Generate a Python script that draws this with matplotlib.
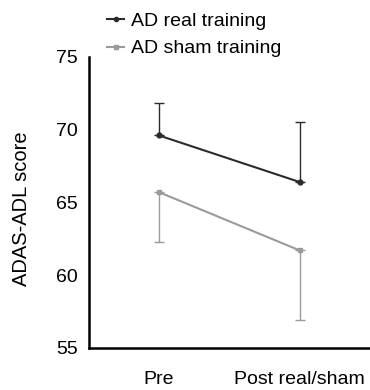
import matplotlib
matplotlib.use("Agg")
import matplotlib.pyplot as plt
from matplotlib.lines import Line2D

# data
phases = ["Pre", "Post real/sham"]
real_mean = [69.6, 66.4]
real_err = [2.2, 4.1]      # upper bars only
sham_mean = [65.7, 61.7]
sham_err = [3.4, 4.8]      # lower bars only

plt.rcParams["font.family"] = ["Liberation Sans", "DejaVu Sans"]

fig = plt.figure(figsize=(3.7, 3.9), dpi=100)
ax = fig.add_axes([0.24, 0.108, 0.76, 0.746])

x = list(range(len(phases)))
c_real = "#2b2b2b"
c_sham = "#9a9a9a"

ax.errorbar(x, real_mean, yerr=[[0, 0], real_err], color=c_real, marker="o",
            markersize=3.5, linewidth=1.5, elinewidth=1.0, capsize=3.5,
            capthick=1.0)
ax.errorbar(x, sham_mean, yerr=[sham_err, [0, 0]], color=c_sham, marker="s",
            markersize=3.5, linewidth=1.5, elinewidth=1.0, capsize=3.5,
            capthick=1.0)

ax.set_xlim(-0.5, 1.5)
ax.set_ylim(55, 75)
ax.set_yticks([55, 60, 65, 70, 75])
ax.set_xticks(x)
ax.set_xticklabels(phases)
ax.tick_params(axis="x", length=0, pad=17, labelsize=14)
ax.tick_params(axis="y", length=0, pad=8, labelsize=14)
ax.set_ylabel("ADAS-ADL score", fontsize=14.5)
ax.yaxis.set_label_coords(-0.207, 0.48)

for s in ["top", "right"]:
    ax.spines[s].set_visible(False)
for s in ["left", "bottom"]:
    ax.spines[s].set_linewidth(1.8)

handles = [
    Line2D([], [], color=c_real, marker="o", markersize=3, linewidth=1.5),
    Line2D([], [], color=c_sham, marker="s", markersize=3, linewidth=1.5),
]
ax.legend(handles, ["AD real training", "AD sham training"],
          loc="lower left", bbox_to_anchor=(0.037, 0.972), frameon=False,
          fontsize=14, handlelength=0.9, handletextpad=0.35, labelspacing=0.5,
          borderaxespad=0.0)

fig.savefig("out.png", dpi=100)
